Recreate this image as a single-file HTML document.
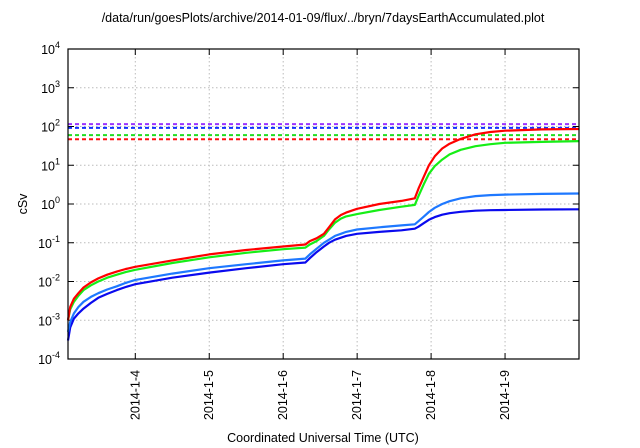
<!DOCTYPE html>
<html><head><meta charset="utf-8"><style>
body{margin:0;background:#fff;}
svg{display:block;font-family:"Liberation Sans",sans-serif;}
</style></head><body>
<svg id="chart" width="640" height="448" xmlns="http://www.w3.org/2000/svg">
<text x="323" y="22" font-size="12.5" text-anchor="middle">/data/run/goesPlots/archive/2014-01-09/flux/../bryn/7daysEarthAccumulated.plot</text>
<text x="323" y="442" font-size="12.5" text-anchor="middle">Coordinated Universal Time (UTC)</text>
<text transform="translate(27,204) rotate(-90)" font-size="12.5" text-anchor="middle">cSv</text>
<g id="grid"></g><g id="ticks"></g><g id="series"></g>
<rect x="68" y="49" width="511" height="310" fill="none" stroke="#000" stroke-width="1.2"/>
</svg>
<script>
const xTickDays=[4,5,6,7,8,9];
const xTickLabels=["2014-1-4","2014-1-5","2014-1-6","2014-1-7","2014-1-8","2014-1-9"];
const yTickExps=[-4,-3,-2,-1,0,1,2,3,4];
const times=[3.09,3.12,3.17,3.23,3.3,3.4,3.5,3.62,3.75,3.87,4,4.5,5,5.5,6,6.3,6.36,6.45,6.55,6.62,6.7,6.78,6.85,7,7.3,7.6,7.78,7.83,7.9,7.97,8.05,8.15,8.25,8.4,8.6,8.8,9,9.5,10];
const redVals=[1e-3,2.2e-3,3.6e-3,5e-3,7e-3,9.5e-3,1.2e-2,1.5e-2,1.8e-2,2.1e-2,2.4e-2,3.5e-2,5e-2,6.5e-2,8e-2,9e-2,0.11,0.13,0.17,0.25,0.4,0.52,0.6,0.75,1.0,1.2,1.4,2.5,5,10,17,27,36,48,63,72,78,84,86];
const greenVals=[1e-3,1.9e-3,3e-3,4.3e-3,6e-3,8e-3,1e-2,1.25e-2,1.5e-2,1.75e-2,2e-2,3e-2,4.2e-2,5.5e-2,6.8e-2,7.5e-2,0.09,0.11,0.15,0.22,0.33,0.42,0.48,0.55,0.7,0.85,0.95,1.6,3.2,6,9.5,14,19,25,31,35,38,40,42];
const lightBlueVals=[5e-4,9e-4,1.5e-3,2.2e-3,3e-3,4e-3,5e-3,6.2e-3,7.5e-3,9.2e-3,1.1e-2,1.6e-2,2.2e-2,2.8e-2,3.5e-2,3.9e-2,0.05,0.07,0.1,0.12,0.15,0.17,0.19,0.22,0.25,0.28,0.3,0.36,0.47,0.62,0.8,1.0,1.18,1.4,1.6,1.7,1.75,1.82,1.87];
const darkBlueVals=[3e-4,6.5e-4,1.1e-3,1.5e-3,2e-3,2.8e-3,3.8e-3,4.8e-3,6e-3,7.2e-3,8.5e-3,1.25e-2,1.7e-2,2.2e-2,2.8e-2,3.1e-2,0.04,0.057,0.08,0.1,0.12,0.135,0.15,0.17,0.19,0.21,0.23,0.26,0.32,0.39,0.46,0.53,0.58,0.63,0.67,0.69,0.7,0.72,0.73];
const thresholdVals=[115,92,60,47];
const thresholdColors=["#9a33ff","#1030ff","#22dd22","#ff1010"];
const X0=68,X1=579,D0=3.09,D1=10.0,Y0=359,Y1=49,E0=-4,E1=4;
const NS="http://www.w3.org/2000/svg";
function xs(d){return X0+(d-D0)/(D1-D0)*(X1-X0);}
function ys(v){return Y0-(Math.log10(v)-E0)/(E1-E0)*(Y0-Y1);}
function mk(tag,attrs,parent){const e=document.createElementNS(NS,tag);for(const k in attrs)e.setAttribute(k,attrs[k]);parent.appendChild(e);return e;}
const grid=document.getElementById('grid'),ticks=document.getElementById('ticks'),ser=document.getElementById('series');
yTickExps.forEach(p=>{
  const y=ys(Math.pow(10,p));
  if(p>E0&&p<E1){const g=mk('line',{x1:X0,x2:X1,y1:y,y2:y,stroke:'#bbb','stroke-dasharray':'1.5,2.5','stroke-width':1},grid);
  
  }
  mk('line',{x1:X0,x2:X0+6,y1:y,y2:y,stroke:'#000'},ticks);
  mk('line',{x1:X1,x2:X1-6,y1:y,y2:y,stroke:'#000'},ticks);
  const t=mk('text',{x:X0-8,y:y+5,'font-size':12.5,'text-anchor':'end'},ticks);
  
  
  t.innerHTML='10<tspan dy="-6" font-size="9">'+p+'</tspan>';
});
xTickDays.forEach((d,i)=>{
  const x=xs(d);
  const g=mk('line',{x1:x,x2:x,y1:Y1,y2:Y0,stroke:'#bbb','stroke-dasharray':'1.5,2.5','stroke-width':1},grid);
  
  
  mk('line',{x1:x,x2:x,y1:Y0,y2:Y0-6,stroke:'#000'},ticks);
  mk('line',{x1:x,x2:x,y1:Y1,y2:Y1+6,stroke:'#000'},ticks);
  const t=mk('text',{transform:`translate(${x+4},${Y0+11}) rotate(-90)`,'font-size':12.5,'text-anchor':'end'},ticks);
  
  
  t.textContent=xTickLabels[i];
});
thresholdVals.forEach((v,i)=>{
  const y=ys(v);
  const l=mk('line',{x1:X0,x2:X1,y1:y,y2:y,stroke:thresholdColors[i],'stroke-width':2,'stroke-dasharray':'4,3'},ser);
  
  
});
[[darkBlueVals,'#0a0aee','dark-blue-series'],[lightBlueVals,'#1e78ff','light-blue-series'],[greenVals,'#16ee16','green-series'],[redVals,'#ff0000','red-series']].forEach(([vals,c,n])=>{
  const pts=times.map((t,i)=>xs(t).toFixed(1)+','+ys(vals[i]).toFixed(1)).join(' ');
  const p=mk('polyline',{points:pts,fill:'none',stroke:c,'stroke-width':2.2,'stroke-linejoin':'round'},ser);
  
  
});
</script>
</body></html>
